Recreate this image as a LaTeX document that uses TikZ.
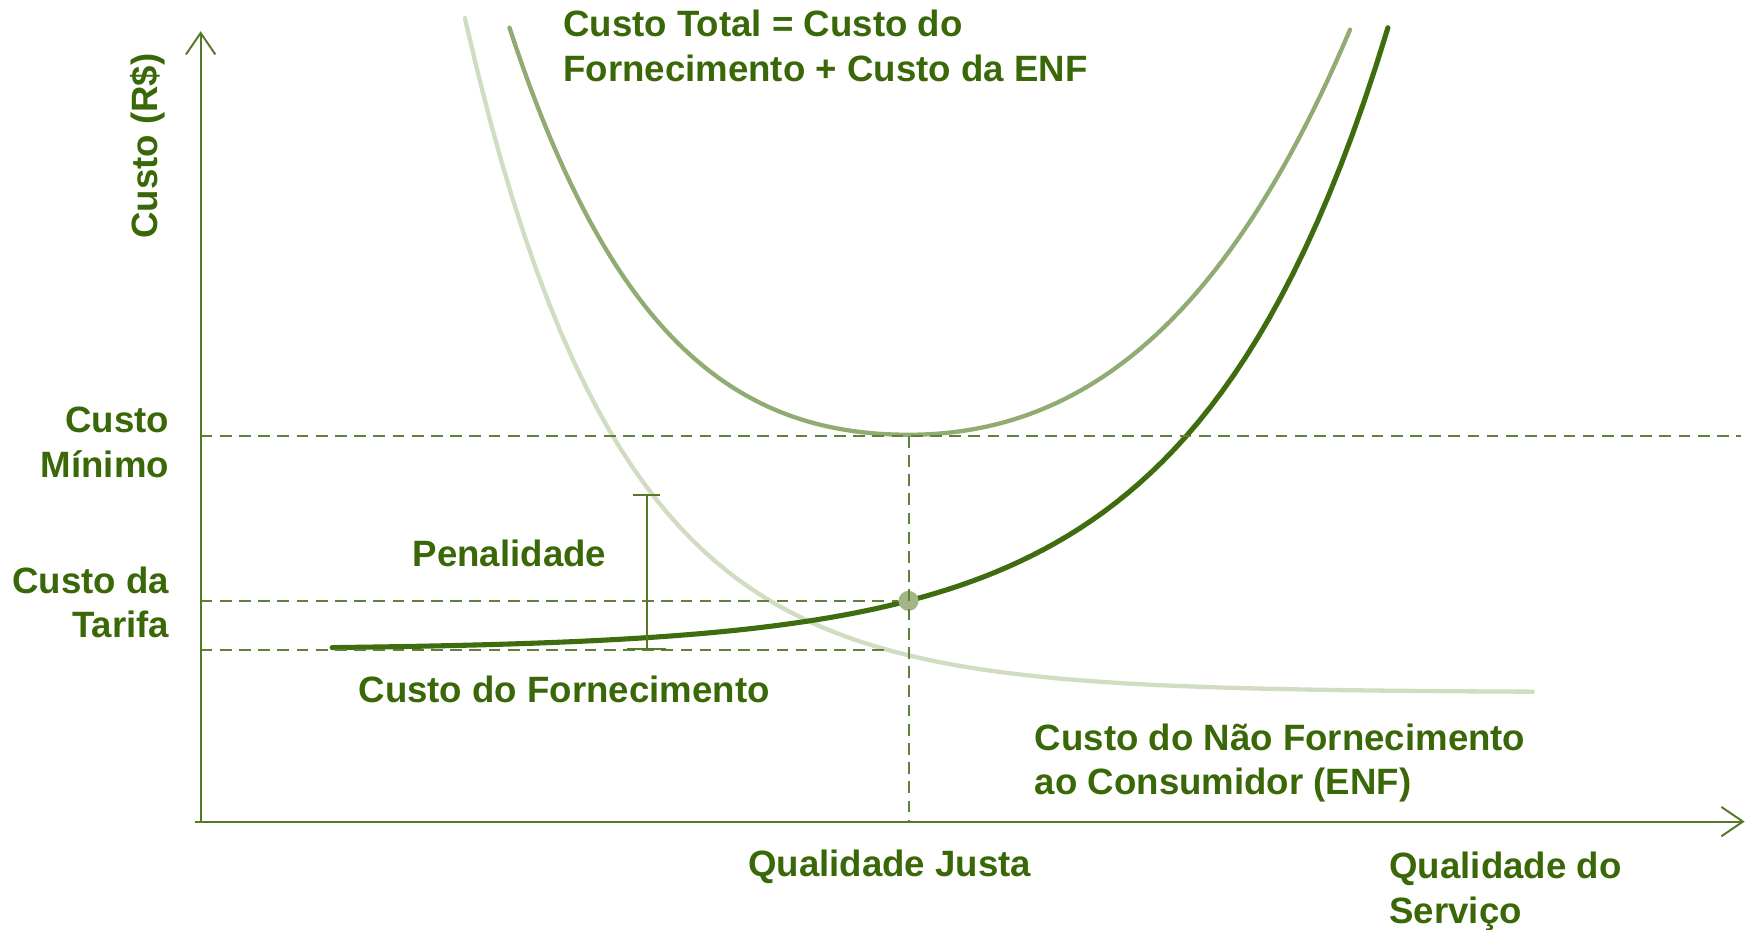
\documentclass[tikz,border=0pt]{standalone}
\usepackage{fontspec}
\setmainfont{Liberation Sans}
\usetikzlibrary{arrows.meta}
\definecolor{txtgreen}{RGB}{58,104,8}
\definecolor{axisgreen}{RGB}{84,122,40}
\definecolor{dashgreen}{RGB}{96,130,56}
\definecolor{fornecgreen}{RGB}{62,108,14}
\definecolor{totalgreen}{RGB}{145,172,115}
\definecolor{enfgreen}{RGB}{208,221,194}
\definecolor{dotgreen}{RGB}{163,181,135}

\begin{document}
\begin{tikzpicture}[x=0.02cm, y=-0.02cm,
    lbl/.style={font=\fontsize{18.7}{22.7}\selectfont\bfseries, text=txtgreen, inner sep=0pt},
    eixo/.style={draw=axisgreen, line width=1pt, -{Straight Barb[length=11pt,width=15pt]}},
    guia/.style={draw=dashgreen, line width=1pt, dash pattern=on 6pt off 3.8pt},
    curva/.style={line width=2.2pt, line cap=round}]
    \useasboundingbox (0,0) rectangle (1568,834);
    \coordinate (O) at (180,737);
    \coordinate (ytop) at (180,28);
    \coordinate (xl) at (175,737);
    \coordinate (xr) at (1565,737);
    \coordinate (minL) at (180,391);
    \coordinate (minR) at (1562,391);
    \coordinate (minC) at (815,391);
    \coordinate (tarL) at (180,539);
    \coordinate (forL) at (180,583);
    \coordinate (forR) at (795,583);
    \coordinate (qjB) at (815,737);
    \coordinate (penT) at (580,443);
    \coordinate (penB) at (580,583);

    % curvas
    \draw[curva, enfgreen] plot[domain=417:1375, samples=90]
      (\x, {621-596*exp(-0.0073*(\x-419))});
    \draw[curva, totalgreen]
      plot[domain=457:815, samples=60] (\x, {390-67.5*(exp(0.006*(815-\x))-1-0.006*(815-\x))})
      -- plot[domain=815:1211, samples=60] (\x, {390-226.3*(exp(0.0035*(\x-815))-1-0.0035*(\x-815))});
    \draw[curva, fornecgreen, line width=2.6pt] plot[domain=298:1245, samples=90]
      (\x, {583-2.08*exp(0.0059*(\x-298))});

    \node[circle, fill=dotgreen, minimum size=0.36cm, inner sep=0pt] (qj) at (815,539) {};

    % eixos e guias
    \path[guia]
      (minL) edge (minR)
      (tarL) edge (qj.west)
      (forL) edge (forR)
      (minC) edge (qjB);
    \draw[eixo] (O) -- (ytop);
    \draw[eixo] (xl) -- (xr);
    \draw[draw=axisgreen, line width=1pt, {Bar[width=14pt]}-{Bar[width=20pt]}] (penT) -- (penB);

    % textos
    \node[lbl, rotate=90, anchor=base] (custo) at (141,131) {Custo (R\$)};
    \node[lbl, align=left, anchor=base west] (total) at (505,73)
      {Custo Total = Custo do\\Fornecimento + Custo da ENF};
    \node[lbl, align=right, anchor=base east] (cmin) at (152,428) {Custo\\Mínimo};
    \node[lbl, align=right, anchor=base east] (ctar) at (152,572) {Custo da\\Tarifa};
    \node[lbl, anchor=base] (pen) at (457,508) {Penalidade};
    \node[lbl, anchor=base] (cforn) at (506,630) {Custo do Fornecimento};
    \node[lbl, align=left, anchor=base west] (cenf) at (928,713)
      {Custo do Não Fornecimento\\ao Consumidor (ENF)};
    \node[lbl, anchor=base] (qjusta) at (798,786) {Qualidade Justa};
    \node[lbl, align=left, anchor=base west] (qserv) at (1246,828) {Qualidade do\\Serviço};
\end{tikzpicture}
\end{document}
